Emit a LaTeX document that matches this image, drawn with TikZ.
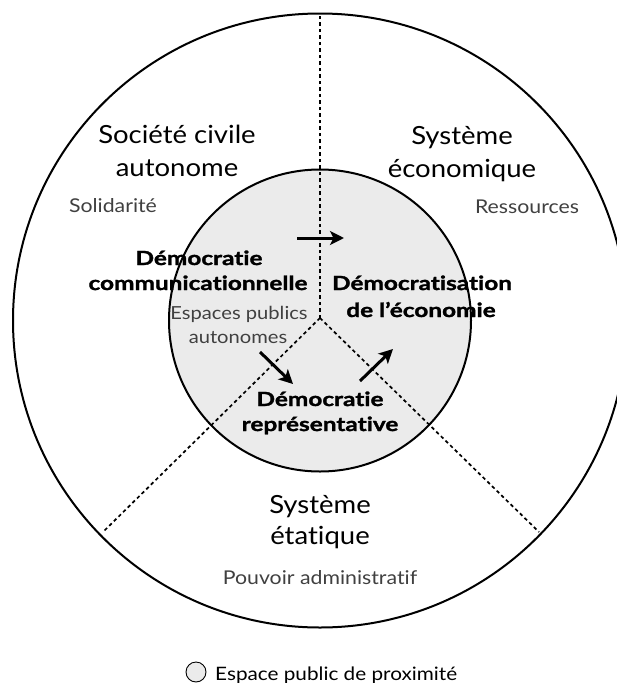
\documentclass[tikz,border=0pt]{standalone}
\usepackage{fontspec}
\setmainfont{Lato}[Ligatures={NoCommon,NoRare,NoContextual}]
\newfontfamily\headfam{Lato}[FakeStretch=1.1, Ligatures={NoCommon,NoRare,NoContextual}]
\newfontfamily\subfam{Lato}[FakeStretch=1.12, Ligatures={NoCommon,NoRare,NoContextual}]
\newfontfamily\boldfam{Lato}[FakeStretch=1.25, Ligatures={NoCommon,NoRare,NoContextual}, BoldFeatures={FakeBold=1.5}]
\usetikzlibrary{arrows.meta}
\definecolor{innergray}{HTML}{EBEBEB}
\begin{document}
\begin{tikzpicture}[x=1pt,y=-1pt,
  head/.style={font=\headfam\fontsize{25}{28}\selectfont, anchor=base, inner sep=0pt},
  sub/.style={font=\subfam\fontsize{19}{22}\selectfont, text=black!75, anchor=base, inner sep=0pt},
  innersub/.style={sub, font=\subfam\fontsize{18}{22}\selectfont},
  boldlbl/.style={font=\boldfam\bfseries\fontsize{19.5}{22}\selectfont, anchor=base, inner sep=0pt},
  divider/.style={line width=1.7pt, dash pattern=on 3.5pt off 3pt},
  ring/.style={line width=2pt},
  flow/.style={line width=3pt, -{Stealth[length=14pt,width=14pt,inset=3.5pt]}}]
\useasboundingbox (0,0) rectangle (617,683);
% centres and divider ends
\coordinate (c) at (320,320.5);
\coordinate (hub) at (320,318);
\coordinate (topend) at (320,13.5);
\coordinate (leftend) at (104,531);
\coordinate (rightend) at (539,532);
% inner circle fill
\fill[innergray] (c) circle[radius=151pt];
% dividers
\draw[divider] (hub) -- (topend);
\draw[divider] (hub) -- (leftend);
\draw[divider] (hub) -- (rightend);
% rings
\draw[ring] (c) circle[radius=151pt];
\draw[ring] (c) circle[radius=307pt];
% outer sector labels
\node[head] (sc1) at (177,143) {Société civile};
\node[head] (sc2) at (177,176) {autonome};
\node[sub] (sol) at (113,212) {Solidarité};
\node[head] (se1) at (462,144) {Système};
\node[head] (se2) at (462,177) {économique};
\node[sub] (res) at (527,213) {Ressources};
\node[head] (st1) at (320,513) {Système};
\node[head] (st2) at (320,544) {étatique};
\node[sub] (pow) at (320,584) {Pouvoir administratif};
% inner labels
\node[boldlbl] (dc1) at (199,265) {Démocratie};
\node[boldlbl] (dc2) at (198,290) {communicationnelle};
\node[innersub] (ep1) at (239,319) {Espaces publics};
\node[innersub] (ep2) at (238,343) {autonomes};
\node[boldlbl] (de1) at (422,290) {Démocratisation};
\node[boldlbl] (de2) at (421,317) {de l’économie};
\node[boldlbl] (dr1) at (320,406) {Démocratie};
\node[boldlbl] (dr2) at (320,431) {représentative};
% arrows
\coordinate (a1s) at (297,238);
\coordinate (a1e) at (344,238);
\coordinate (a2s) at (260,352);
\coordinate (a2e) at (293,384);
\coordinate (a3s) at (360,381);
\coordinate (a3e) at (393,349);
\draw[flow] (a1s) -- (a1e);
\draw[flow] (a2s) -- (a2e);
\draw[flow] (a3s) -- (a3e);
% legend
\node[circle, draw, line width=0.9pt, fill=innergray, minimum size=20pt, inner sep=0pt] (lg) at (196,672) {};
\node[font=\subfam\fontsize{18.5}{22}\selectfont, anchor=base west, inner sep=0pt] (lgt) at (215,680) {Espace public de proximité};
\end{tikzpicture}
\end{document}
